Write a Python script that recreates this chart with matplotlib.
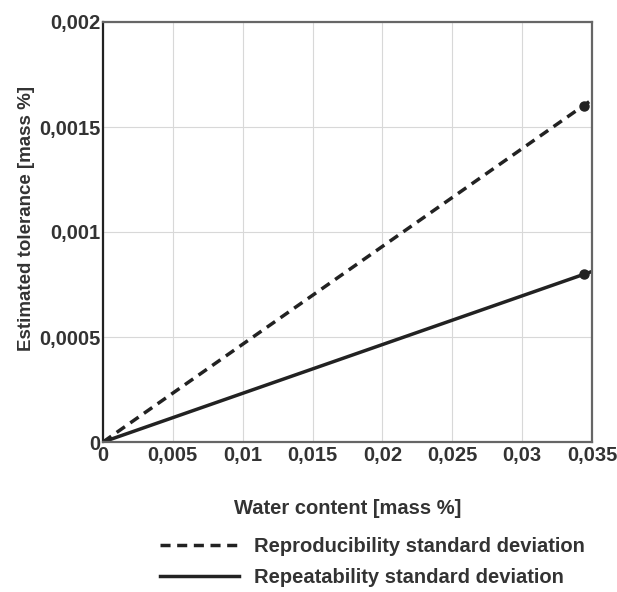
import numpy as np
import matplotlib
matplotlib.use("Agg")
import matplotlib.pyplot as plt
from matplotlib import rcParams
from matplotlib.ticker import FuncFormatter

rcParams['font.family'] = 'sans-serif'
rcParams['font.sans-serif'] = ['Liberation Sans', 'DejaVu Sans']
rcParams['font.size'] = 14.5
rcParams['font.weight'] = 'bold'
rcParams['axes.labelweight'] = 'bold'

# line data (water content vs. tolerance)
water = [0.0, 0.035]
reproducibility = [0.0, 0.00163]
repeatability = [0.0, 0.000812]

# marked points
point_x = [0.0344, 0.0344]
point_y = [0.0016, 0.0008]

x_ticks = [0, 0.005, 0.01, 0.015, 0.02, 0.025, 0.03, 0.035]
y_ticks = [0, 0.0005, 0.001, 0.0015, 0.002]

text_col = '#333333'


def comma_fmt(v, pos):
    if v == 0:
        return '0'
    s = ('%.4f' % v).rstrip('0')
    return s.replace('.', ',')


fig = plt.figure(figsize=(6.17, 5.92), dpi=100)
ax = fig.add_axes([103/617, 1 - 442/592, (592-103)/617, (442-22)/592])

ax.plot(water, reproducibility, color='#222222', linewidth=2.5,
        linestyle=(0, (2.9, 1.9)), label='Reproducibility standard deviation')
ax.plot(water, repeatability, color='#222222', linewidth=2.5,
        linestyle='-', label='Repeatability standard deviation')
ax.plot(point_x, point_y, 'o', color='#222222', markersize=6.5, zorder=5)

ax.set_xlim(0, 0.035)
ax.set_ylim(0, 0.002)
ax.set_xticks(x_ticks)
ax.set_yticks(y_ticks)
ax.xaxis.set_major_formatter(FuncFormatter(comma_fmt))
ax.yaxis.set_major_formatter(FuncFormatter(comma_fmt))
ax.tick_params(axis='x', length=0, pad=3, colors=text_col, labelsize=14.5)
ax.tick_params(axis='y', length=0, pad=2, colors=text_col, labelsize=14.5)

ax.grid(True, color='#d8d8d8', linewidth=0.8)
ax.set_axisbelow(True)
for side in ['top', 'right', 'bottom']:
    ax.spines[side].set_color('#666666')
    ax.spines[side].set_linewidth(1.6)
ax.spines['left'].set_color('#222222')
ax.spines['left'].set_linewidth(1.6)

ax.set_xlabel('Water content [mass %]', color=text_col, labelpad=24)
ax.set_ylabel('Estimated tolerance [mass %]', color=text_col, fontsize=13.5)
ax.yaxis.set_label_coords(-0.139, 0.533)

leg = fig.legend(loc='upper left', bbox_to_anchor=(142/617, 1 - 519/592),
                 frameon=False, handlelength=3.9, handletextpad=0.75,
                 labelspacing=0.6, fontsize=14.5)
for t in leg.get_texts():
    t.set_color(text_col)

fig.savefig('out.png', dpi=100, facecolor='white')
